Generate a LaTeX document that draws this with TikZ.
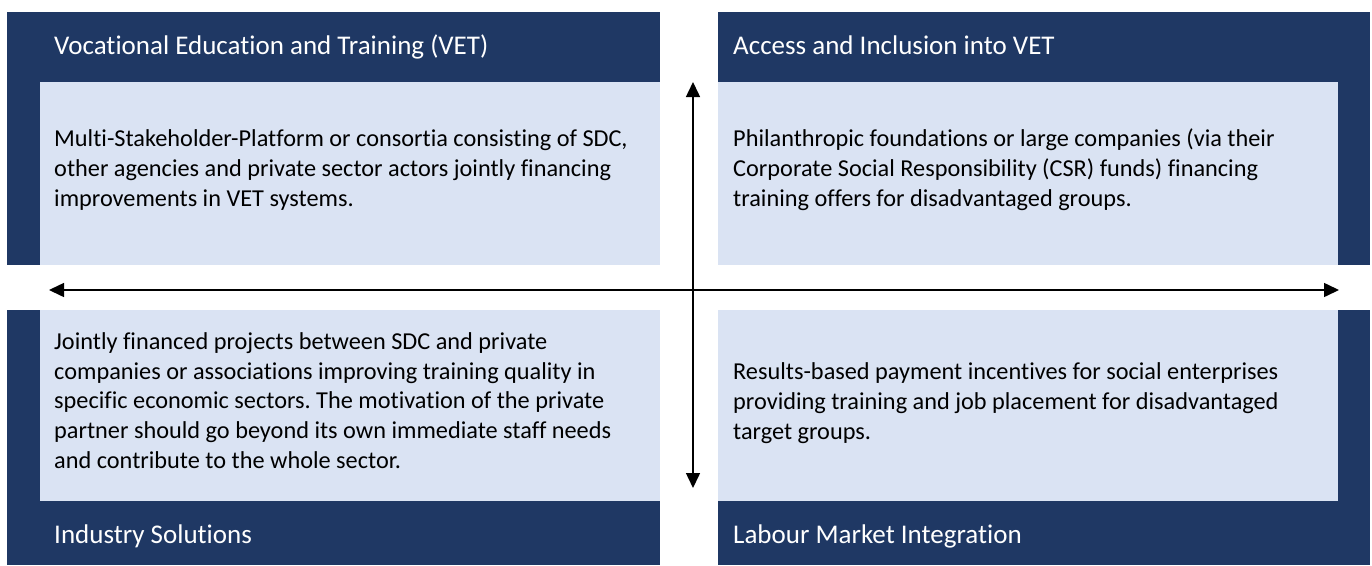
\documentclass[tikz,border=0pt]{standalone}
\usepackage{fontspec}
\setmainfont{Carlito}[Ligatures=NoCommon]
\usetikzlibrary{arrows.meta}
\definecolor{navy}{HTML}{1F3864}
\definecolor{pale}{HTML}{DAE3F3}
\frenchspacing
\begin{document}
\begin{tikzpicture}[x=1pt,y=-1pt,
  title/.style={anchor=base west,inner sep=0pt,text=white,font=\fontsize{27}{32}\selectfont},
  body/.style={anchor=base west,inner sep=0pt,text=black,align=left,font=\fontsize{24.3}{29.6}\selectfont},
  axis/.style={line width=1.5pt,{Triangle[length=15pt,width=14pt]}-{Triangle[length=15pt,width=14pt]}}]
\useasboundingbox (0,0) rectangle (1372,565);
% boxes
\fill[navy] (7,12) rectangle (660,265);
\fill[pale] (40,82) rectangle (660,265);
\fill[navy] (718,12) rectangle (1370,265);
\fill[pale] (718,82) rectangle (1338,265);
\fill[navy] (7,310) rectangle (660,565);
\fill[pale] (40,310) rectangle (660,501);
\fill[navy] (718,310) rectangle (1370,565);
\fill[pale] (718,310) rectangle (1338,501);
% titles
\node[title] (t1) at (54,54) {Vocational Education and Training (VET)};
\node[title] (t2) at (733,54) {Access and Inclusion into VET};
\node[title] (t3) at (54,543) {Industry Solutions};
\node[title] (t4) at (733,543) {Labour Market Integration};
% bodies (anchored at the baseline of the last line)
\node[body] (b1) at (54,206) {Multi-Stakeholder-Platform or consortia consisting of SDC,\\other agencies and private sector actors jointly financing\\improvements in VET systems.};
\node[body] (b2) at (733,206) {Philanthropic foundations or large companies (via their\\Corporate Social Responsibility (CSR) funds) financing\\training offers for disadvantaged groups.};
\node[body] (b3) at (54,468) {Jointly financed projects between SDC and private\\companies or associations improving training quality in\\specific economic sectors. The motivation of the private\\partner should go beyond its own immediate staff needs\\and contribute to the whole sector.};
\node[body] (b4) at (733,439) {Results-based payment incentives for social enterprises\\providing training and job placement for disadvantaged\\target groups.};
% axes
\coordinate (left) at (49,290);
\coordinate (right) at (1339,290);
\coordinate (top) at (693,82);
\coordinate (bottom) at (693,488);
\draw[axis] (left) -- (right);
\draw[axis] (top) -- (bottom);
\end{tikzpicture}
\end{document}
